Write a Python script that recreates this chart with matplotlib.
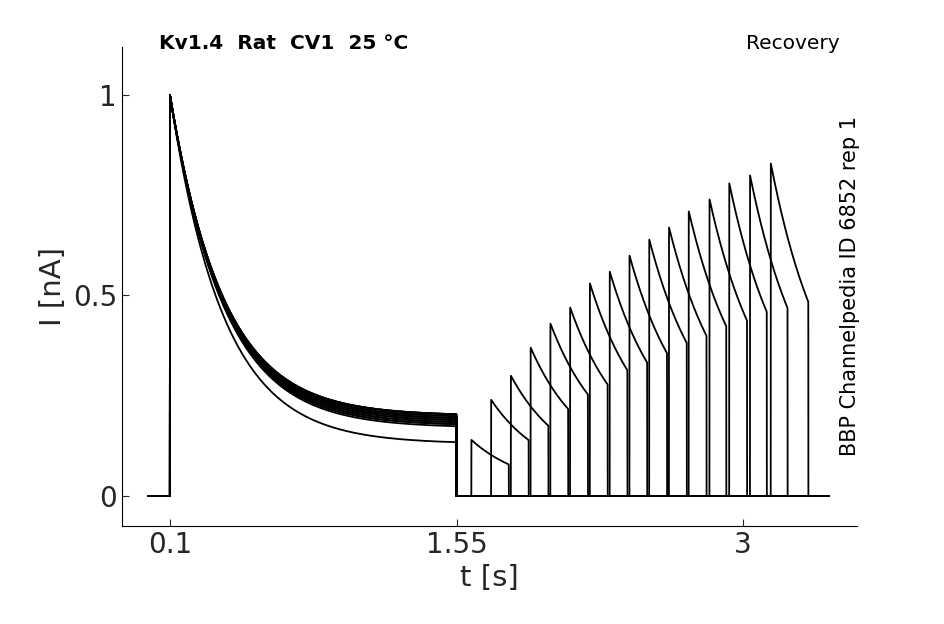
import numpy as np
import matplotlib.pyplot as plt

# values
t_step1 = 0.1          # onset of conditioning pulse [s]
t_step1_end = 1.55     # end of conditioning pulse [s]
t_sweep = (-0.01, 3.435) # recorded window [s]
tau_inact = 0.27       # inactivation time constant read from decay [s]
ss_levels = [0.13, 0.17, 0.175, 0.18, 0.185, 0.19, 0.19, 0.195, 0.195, 0.20,
             0.20, 0.20, 0.19, 0.185, 0.18, 0.175]
rec_starts = [1.625, 1.725, 1.825, 1.925, 2.025, 2.125, 2.225, 2.325, 2.425,
              2.525, 2.625, 2.725, 2.83, 2.93, 3.035, 3.14]
rec_peaks = [0.14, 0.24, 0.30, 0.37, 0.43, 0.47, 0.53, 0.56, 0.60, 0.64,
             0.67, 0.71, 0.74, 0.78, 0.80, 0.83]
rec_dur = 0.19

fig = plt.figure(figsize=(9.45, 6.24), dpi=100)
ax = fig.add_axes([0.129, 0.157, 0.778, 0.768])

for ss, t0, pk in zip(ss_levels, rec_starts, rec_peaks):
    t = np.linspace(t_sweep[0], t_sweep[1], 6000)
    i = np.zeros_like(t)
    m1 = (t >= t_step1) & (t < t_step1_end)
    i[m1] = ss + (1 - ss) * np.exp(-(t[m1] - t_step1) / tau_inact)
    m2 = (t >= t0) & (t < t0 + rec_dur)
    i[m2] = pk * (ss + (1 - ss) * np.exp(-(t[m2] - t0) / tau_inact))
    ax.plot(t, i, color='black', lw=1.3)

ax.set_xlim(-0.143, 3.577)
ax.set_ylim(-0.075, 1.12)
ax.set_xticks([0.1, 1.55, 3])
ax.set_xticklabels(['0.1', '1.55', '3'])
ax.set_yticks([0, 0.5, 1])
ax.set_yticklabels(['0', '0.5', '1'])
ax.tick_params(labelsize=20, direction='in', length=5, colors='#262626')
ax.spines['top'].set_visible(False)
ax.spines['right'].set_visible(False)
ax.set_xlabel('t [s]', fontsize=21, color='#262626')
ax.set_ylabel('I [nA]', fontsize=21, color='#262626')

fig.text(0.168, 0.922, 'Kv1.4  Rat  CV1  25 °C', fontsize=14.5, fontweight='bold')
fig.text(0.888, 0.922, 'Recovery', fontsize=14.5, ha='right')
fig.text(0.899, 0.542, 'BBP Channelpedia ID 6852 rep 1', fontsize=15,
         rotation=90, ha='center', va='center')

fig.savefig('out.png', dpi=100)
